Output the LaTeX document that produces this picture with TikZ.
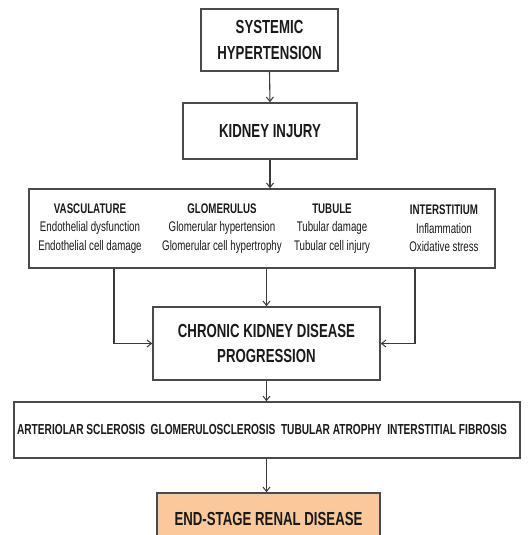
\documentclass[tikz,border=0pt]{standalone}
\usepackage{fontspec}
\setmainfont{Liberation Sans}[FakeStretch=0.70]
\usetikzlibrary{arrows.meta}
\definecolor{boxline}{HTML}{4A4A4A}
\definecolor{conn}{HTML}{3A3A3A}
\definecolor{esrdfill}{HTML}{FAC89B}
\definecolor{txt}{HTML}{1A1A1A}
\tikzset{
  box/.style={draw=boxline, line width=1.4pt, rectangle, inner sep=0pt, text=txt, align=center},
  bigtxt/.style={font=\fontsize{18.9}{25.5}\selectfont\bfseries},
  coltxt/.style={inner sep=0pt, text=txt, align=center, font=\fontsize{13.9}{18.5}\selectfont},
  conn/.style={draw=conn, line width=1.1pt, -{Straight Barb[length=4.5pt,width=7pt,line width=1pt]}},
}
\begin{document}
\begin{tikzpicture}[x=1pt,y=-1pt]
\useasboundingbox[fill=white] (0,0) rectangle (531,535);
\clip (0,0) rectangle (531,535);
\node[box, bigtxt, minimum width=137pt, minimum height=62pt] (b1) at (269.5,40) {SYSTEMIC\\HYPERTENSION};
\node[box, bigtxt, minimum width=174pt, minimum height=56pt] (b2) at (270,131) {KIDNEY INJURY};
\node[box, minimum width=466pt, minimum height=79pt] (b3) at (262,228.5) {};
\node[coltxt] (c1) at (90,228.5) {\textbf{VASCULATURE}\\Endothelial dysfunction\\Endothelial cell damage};
\node[coltxt] (c2) at (222,228.5) {\textbf{GLOMERULUS}\\Glomerular hypertension\\Glomerular cell hypertrophy};
\node[coltxt] (c3) at (332,228.5) {\textbf{TUBULE}\\Tubular damage\\Tubular cell injury};
\node[coltxt] (c4) at (444,228.5) {\textbf{INTERSTITIUM}\\Inflammation\\Oxidative stress};
\node[box, bigtxt, minimum width=227pt, minimum height=73pt] (b4) at (266.5,343.5) {CHRONIC KIDNEY DISEASE\\PROGRESSION};
\node[box, minimum width=506pt, minimum height=56pt] (b5) at (267,430) {};
\node[inner sep=0pt, text=txt, font=\fontsize{14.5}{17}\selectfont\bfseries] (t5) at (262,430) {ARTERIOLAR SCLEROSIS\ \ GLOMERULOSCLEROSIS\ \ TUBULAR ATROPHY\ \ INTERSTITIAL FIBROSIS};
\node[box, bigtxt, fill=esrdfill, minimum width=223pt, minimum height=52pt] (b6) at (268.5,519) {END-STAGE RENAL DISEASE};
\coordinate (lx) at (114,0);
\coordinate (rx) at (415,0);
\coordinate (m5) at (b4.south |- b5.south);
\draw[conn] (b1.south) -- (b2.north);
\draw[conn] (b2.south) -- (b2.south |- b3.north);
\draw[conn] (b3.south -| b4.north) -- (b4.north);
\draw[conn] (b3.south -| lx) |- (b4.west);
\draw[conn] (b3.south -| rx) |- (b4.east);
\draw[conn] (b4.south) -- (b4.south |- b5.north);
\draw[conn] (m5) -- (m5 |- b6.north);
\end{tikzpicture}
\end{document}
